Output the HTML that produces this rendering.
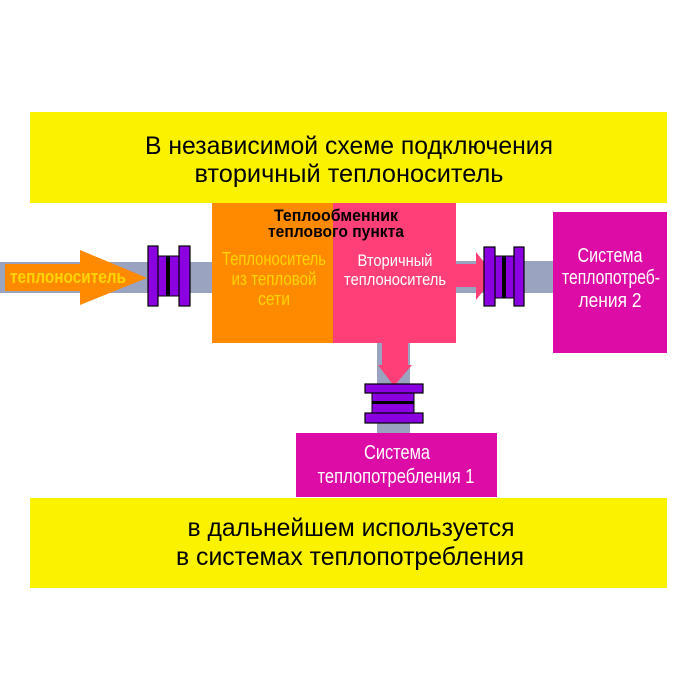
<!DOCTYPE html>
<html><head><meta charset="utf-8"><style>html,body{margin:0;padding:0;background:#fff}svg{display:block}</style></head><body>
<svg width="700" height="700" viewBox="0 0 700 700" xmlns="http://www.w3.org/2000/svg" font-family="'Liberation Sans', sans-serif">
<rect x="30" y="112" width="637" height="91" fill="#fbf200"/>
<rect x="30" y="498" width="637" height="90" fill="#fbf200"/>
<text x="349" y="154" font-size="25" text-anchor="middle" textLength="408" lengthAdjust="spacingAndGlyphs" fill="#000">В независимой схеме подключения</text>
<text x="349" y="182" font-size="25" text-anchor="middle" textLength="309" lengthAdjust="spacingAndGlyphs" fill="#000">вторичный теплоноситель</text>
<text x="351" y="536" font-size="25" text-anchor="middle" textLength="327" lengthAdjust="spacingAndGlyphs" fill="#000">в дальнейшем используется</text>
<text x="350" y="565" font-size="25" text-anchor="middle" textLength="348" lengthAdjust="spacingAndGlyphs" fill="#000">в системах теплопотребления</text>
<rect x="0" y="262" width="212" height="31" fill="#9aa3c0"/>
<rect x="456" y="261" width="97" height="32" fill="#9aa3c0"/>
<rect x="377" y="343" width="33" height="90" fill="#9aa3c0"/>
<polygon points="5,264 80,264 80,250 147,278 80,305 80,291 5,291" fill="#ff8a00"/>
<text x="68" y="283" font-size="18" font-weight="bold" text-anchor="middle" textLength="116" lengthAdjust="spacingAndGlyphs" fill="#ffd400">теплоноситель</text>
<rect x="158" y="256" width="21" height="40" fill="#8a00e0" stroke="#000" stroke-width="1"/>
<rect x="166" y="256" width="4" height="40" fill="#000"/>
<rect x="148" y="246" width="10" height="60" fill="#8a00e0" stroke="#000" stroke-width="1.2"/>
<rect x="179" y="246" width="11" height="60" fill="#8a00e0" stroke="#000" stroke-width="1.2"/>
<rect x="212" y="203" width="121" height="140" fill="#ff8a00"/>
<rect x="333" y="203" width="123" height="140" fill="#ff3f77"/>
<text x="336" y="221" font-size="17" font-weight="bold" text-anchor="middle" textLength="124" lengthAdjust="spacingAndGlyphs" fill="#000">Теплообменник</text>
<text x="336" y="237" font-size="17" font-weight="bold" text-anchor="middle" textLength="136" lengthAdjust="spacingAndGlyphs" fill="#000">теплового пункта</text>
<text x="274" y="265" font-size="18" text-anchor="middle" textLength="104" lengthAdjust="spacingAndGlyphs" fill="#ffd400">Теплоноситель</text>
<text x="274" y="285" font-size="18" text-anchor="middle" textLength="85" lengthAdjust="spacingAndGlyphs" fill="#ffd400">из тепловой</text>
<text x="274" y="305" font-size="18" text-anchor="middle" textLength="32" lengthAdjust="spacingAndGlyphs" fill="#ffd400">сети</text>
<text x="395" y="266" font-size="17" text-anchor="middle" textLength="75" lengthAdjust="spacingAndGlyphs" fill="#fff">Вторичный</text>
<text x="395" y="285" font-size="17" text-anchor="middle" textLength="102" lengthAdjust="spacingAndGlyphs" fill="#fff">теплоноситель</text>
<polygon points="456,264 476,264 476,252 495,276 476,300 476,287 456,287" fill="#ff3f77"/>
<rect x="495" y="256" width="19" height="42" fill="#8a00e0" stroke="#000" stroke-width="1"/>
<rect x="502" y="256" width="4" height="42" fill="#000"/>
<rect x="484" y="247" width="11" height="59" fill="#8a00e0" stroke="#000" stroke-width="1.2"/>
<rect x="514" y="247" width="10" height="59" fill="#8a00e0" stroke="#000" stroke-width="1.2"/>
<rect x="553" y="212" width="114" height="141" fill="#dd0ca6"/>
<text x="610" y="262" font-size="20" text-anchor="middle" textLength="65" lengthAdjust="spacingAndGlyphs" fill="#fff">Система</text>
<text x="611" y="284" font-size="20" text-anchor="middle" textLength="98" lengthAdjust="spacingAndGlyphs" fill="#fff">теплопотреб-</text>
<text x="610" y="307" font-size="20" text-anchor="middle" textLength="63" lengthAdjust="spacingAndGlyphs" fill="#fff">ления 2</text>
<polygon points="382,343 408,343 408,365 412,365 394,386 378,365 382,365" fill="#ff3f77"/>
<rect x="372" y="393" width="42" height="20" fill="#8a00e0" stroke="#000" stroke-width="1"/>
<rect x="372" y="401" width="42" height="3" fill="#000"/>
<rect x="365" y="384" width="58" height="9" fill="#8a00e0" stroke="#000" stroke-width="1.2"/>
<rect x="365" y="413" width="58" height="10" fill="#8a00e0" stroke="#000" stroke-width="1.2"/>
<rect x="296" y="433" width="201" height="64" fill="#dd0ca6"/>
<text x="397" y="459" font-size="20" text-anchor="middle" textLength="66" lengthAdjust="spacingAndGlyphs" fill="#fff">Система</text>
<text x="396" y="483" font-size="20" text-anchor="middle" textLength="157" lengthAdjust="spacingAndGlyphs" fill="#fff">теплопотребления 1</text>
</svg>
</body></html>
